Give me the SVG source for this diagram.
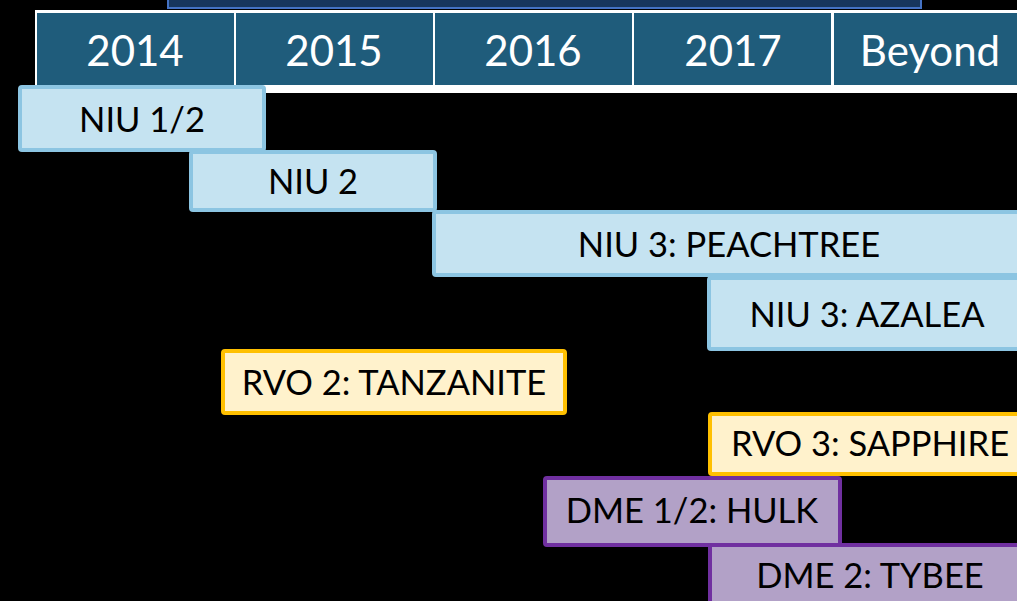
<svg xmlns="http://www.w3.org/2000/svg" width="1017" height="601" viewBox="0 0 1017 601">
<style>
.hdr{fill:#1F5C7B}
.ht{font-family:Lato,"Liberation Sans",sans-serif;font-size:42px;fill:#FFFFFF;text-anchor:middle}
.bt{font-family:Lato,"Liberation Sans",sans-serif;font-size:34.5px;fill:#000000;text-anchor:middle}
.niu{fill:#C5E3F1;stroke:#8CC5E2;stroke-width:4}
.rvo{fill:#FFF2CC;stroke:#FFC000;stroke-width:4}
.dme{fill:#B2A1C7;stroke:#7030A0;stroke-width:4}
</style>
<rect x="0" y="0" width="1017" height="601" fill="#000000"/>
<g id="title-bar">
<rect x="168" y="-6" width="753" height="14" fill="#17365D" stroke="#4472C4" stroke-width="2"/>
</g>
<g id="year-header">
<rect x="35" y="10" width="990" height="83" fill="#FFFFFF"/>
<rect class="hdr" x="37" y="13" width="197" height="72"/>
<rect class="hdr" x="236" y="13" width="197" height="72"/>
<rect class="hdr" x="435" y="13" width="197" height="72"/>
<rect class="hdr" x="634" y="13" width="197" height="72"/>
<rect class="hdr" x="834" y="13" width="190" height="72"/>
<text class="ht" x="135" y="66">2014</text>
<text class="ht" x="334" y="66">2015</text>
<text class="ht" x="533" y="66">2016</text>
<text class="ht" x="733" y="66">2017</text>
<text class="ht" x="930" y="66">Beyond</text>
</g>
<g id="connectors"/>
<g id="niu12">
<rect class="niu" x="20" y="87" width="244" height="63" rx="2"/>
<text class="bt" x="142" y="132">NIU 1/2</text>
</g>
<g id="niu2">
<rect class="niu" x="191" y="152" width="244" height="58" rx="2"/>
<text class="bt" x="313" y="194">NIU 2</text>
</g>
<g id="niu3-peachtree">
<rect class="niu" x="434" y="212" width="590" height="63" rx="2"/>
<text class="bt" x="729" y="257">NIU 3: PEACHTREE</text>
</g>
<g id="niu3-azalea">
<rect class="niu" x="709" y="278" width="316" height="71" rx="2"/>
<text class="bt" x="867" y="327">NIU 3: AZALEA</text>
</g>
<g id="rvo2-tanzanite">
<rect class="rvo" x="223" y="351" width="342" height="62" rx="2"/>
<text class="bt" x="394" y="395">RVO 2: TANZANITE</text>
</g>
<g id="rvo3-sapphire">
<rect class="rvo" x="710" y="414" width="320" height="60" rx="2"/>
<text class="bt" x="870" y="456">RVO 3: SAPPHIRE</text>
</g>
<g id="dme12-hulk">
<rect class="dme" x="545" y="478" width="295" height="67" rx="2"/>
<text class="bt" x="692" y="523">DME 1/2: HULK</text>
</g>
<g id="dme2-tybee">
<rect class="dme" x="710" y="545" width="320" height="70" rx="2"/>
<text class="bt" x="870" y="588">DME 2: TYBEE</text>
</g>
</svg>
